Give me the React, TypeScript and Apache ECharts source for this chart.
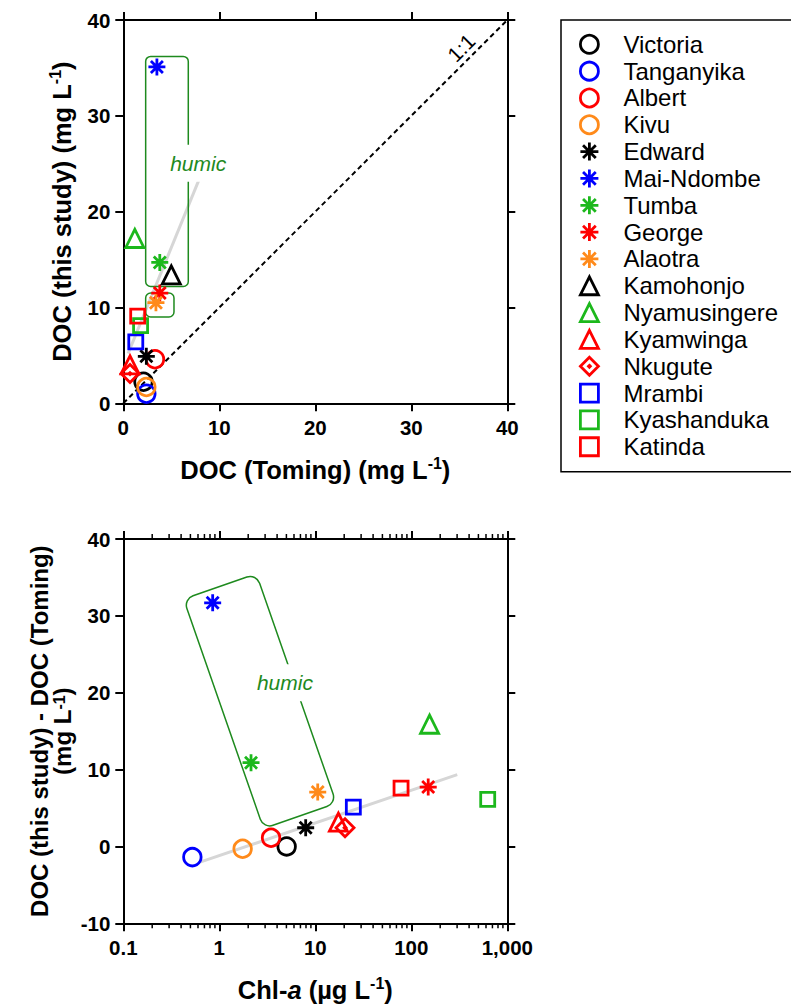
import React, { useEffect, useRef } from 'react';
import * as echarts from 'echarts';

const FONT = '"Liberation Sans", Arial, Helvetica, sans-serif';

// ---------- data ----------
const lakeNames = [
  'Victoria', 'Tanganyika', 'Albert', 'Kivu', 'Edward', 'Mai-Ndombe', 'Tumba', 'George',
  'Alaotra', 'Kamohonjo', 'Nyamusingere', 'Kyamwinga', 'Nkugute', 'Mrambi', 'Kyashanduka', 'Katinda',
];
const lakeColors = [
  '#000000', '#0000ff', '#ff0000', '#ff8a1a', '#000000', '#0000ff', '#1cb81c', '#ff0000',
  '#ff8a1a', '#000000', '#1cb81c', '#ff0000', '#ff0000', '#0000ff', '#1cb81c', '#ff0000',
];
const lakeMarkers = [
  'circle', 'circle', 'circle', 'circle', 'asterisk', 'asterisk', 'asterisk', 'asterisk',
  'asterisk', 'triangle', 'triangle', 'triangle', 'diamond', 'square', 'square', 'square',
];
// top panel: DOC (Toming) vs DOC (this study), mg/L
const docToming = [2.1, 2.4, 3.3, 2.4, 2.4, 3.5, 3.8, 3.8, 3.4, 5.0, 1.2, 0.7, 0.7, 1.3, 1.8, 1.5];
const docThisStudy = [2.25, 1.0, 4.6, 1.7, 4.9, 35.1, 14.7, 11.5, 10.5, 13.4, 17.2, 4.0, 3.1, 6.4, 8.1, 9.1];
// bottom panel: Chl-a (ug/L) vs difference (mg/L); Kamohonjo not shown
const chlA = [5.03, 0.524, 3.46, 1.75, 7.94, 0.853, 2.14, 150, 10.6, null, 155, 17.4, 20.4, 24.9, 625, 78.2];
const docDiff = [0.0, -1.39, 1.13, -0.3, 2.43, 31.7, 10.9, 7.73, 7.07, null, 15.9, 3.17, 2.43, 5.12, 6.12, 7.6];

const linearTicks = [0, 10, 20, 30, 40];
const diffTicks = [-10, 0, 10, 20, 30, 40];
const logTickValues = [0.1, 1, 10, 100, 1000];
const logTickLabels = ['0.1', '1', '10', '100', '1,000'];
const minorDecades = [0.1, 1, 10, 100];
const minorMultipliers = [2, 3, 4, 5, 6, 7, 8, 9];

const oneToOneLine = [[0, 0], [40, 40]];
const trendTop = [[0.5, 5.2], [8.4, 24.6]];
const trendBottom = [[0.63, -2.05], [301, 9.34]];
// boxes: [x1, y1, x2, y2] in data units
const humicBoxesTop = [[2.33, 36.2, 6.77, 12.2], [2.33, 11.5, 5.28, 9.0]];
// rotated box: corner A, corner B (along short side), corner D (along long side)
const humicBoxBottom = [[0.428, 32.2, 2.45, 35.5, 2.87, 2.3]];
const topLabels = [
  { x: 7.8, y: 25.05, text: 'humic', kind: 'humic' },
  { x: 35.2, y: 37.1, text: '1:1', kind: 'ratio' },
];
const bottomLabels = [{ x: 4.83, y: 21.3, text: 'humic', kind: 'humic' }];

// ---------- styles ----------
const SYMBOLS: Record<string, string> = {
  circle: 'circle',
  asterisk: 'path://M10,0L10,20M0,10L20,10M2.93,2.93L17.07,17.07M17.07,2.93L2.93,17.07',
  triangle: 'triangle',
  diamond: 'path://M10,0L20,10L10,20L0,10Z M10,9L11,10L10,11L9,10Z',
  square: 'rect',
};
const SIZES: Record<string, number> = { circle: 17.5, asterisk: 17, triangle: 18, diamond: 18, square: 14 };
const BOX_GREEN = '#1e8a1e';
const TITLE = 25.5;

const nameRich = {
  a: { fontSize: TITLE, fontWeight: 'bold', fontFamily: FONT, color: '#000', lineHeight: 30 },
  i: { fontSize: TITLE, fontWeight: 'bold', fontStyle: 'italic', fontFamily: FONT, color: '#000', lineHeight: 30 },
  s: { fontSize: 16, fontWeight: 'bold', fontFamily: FONT, color: '#000', lineHeight: 14, verticalAlign: 'top' },
  b: { fontSize: 24, fontWeight: 'bold', fontFamily: FONT, color: '#000', lineHeight: 23 },
  t: { fontSize: 16, fontWeight: 'bold', fontFamily: FONT, color: '#000', lineHeight: 11, verticalAlign: 'top' },
};

const axisLineStyle = { onZero: false, lineStyle: { color: '#000', width: 2 } };
const axisTickStyle = { length: 8, inside: false, lineStyle: { color: '#000', width: 2 } };
const tickLabelStyle = { fontSize: 20.5, fontWeight: 'bold', color: '#000', fontFamily: FONT };

function logLabel(v: number) {
  let best = 0;
  logTickValues.forEach((t, i) => {
    if (Math.abs(Math.log10(t) - Math.log10(v)) < Math.abs(Math.log10(logTickValues[best]) - Math.log10(v))) best = i;
  });
  return logTickLabels[best];
}

function buildOption() {
  const series: any[] = [];

  // trend lines and 1:1 line
  series.push({
    type: 'line', xAxisIndex: 0, yAxisIndex: 0, data: trendTop, showSymbol: false, silent: true, z: 1,
    lineStyle: { color: '#d6d6d6', width: 3 },
  });
  series.push({
    type: 'line', xAxisIndex: 2, yAxisIndex: 2, data: trendBottom, showSymbol: false, silent: true, z: 1,
    lineStyle: { color: '#d6d6d6', width: 3 },
  });
  series.push({
    type: 'line', xAxisIndex: 0, yAxisIndex: 0, data: oneToOneLine, showSymbol: false, silent: true, z: 2,
    lineStyle: { color: '#000', width: 2, type: [5, 3.5] },
  });

  // humic boxes (top)
  series.push({
    type: 'custom', xAxisIndex: 0, yAxisIndex: 0, silent: true, z: 3,
    data: humicBoxesTop,
    encode: { x: [0, 2], y: [1, 3] },
    renderItem: (_p: any, api: any) => {
      const p1 = api.coord([api.value(0), api.value(1)]);
      const p2 = api.coord([api.value(2), api.value(3)]);
      return {
        type: 'rect',
        shape: { x: p1[0], y: p1[1], width: p2[0] - p1[0], height: p2[1] - p1[1], r: 5 },
        style: { fill: 'none', stroke: BOX_GREEN, lineWidth: 1.5 },
      };
    },
  });
  // humic box (bottom, rotated)
  series.push({
    type: 'custom', xAxisIndex: 2, yAxisIndex: 2, silent: true, z: 3,
    data: humicBoxBottom,
    encode: { x: [0, 2, 4], y: [1, 3, 5] },
    renderItem: (_p: any, api: any) => {
      const a = api.coord([api.value(0), api.value(1)]);
      const b = api.coord([api.value(2), api.value(3)]);
      const d = api.coord([api.value(4), api.value(5)]);
      const w = Math.hypot(b[0] - a[0], b[1] - a[1]);
      const h = Math.hypot(d[0] - a[0], d[1] - a[1]);
      const cx = (b[0] + d[0]) / 2;
      const cy = (b[1] + d[1]) / 2;
      const rot = -Math.atan2(b[1] - a[1], b[0] - a[0]);
      return {
        type: 'rect', x: cx, y: cy, rotation: rot,
        shape: { x: -w / 2, y: -h / 2, width: w, height: h, r: 10 },
        style: { fill: 'none', stroke: BOX_GREEN, lineWidth: 1.5 },
      };
    },
  });

  // minor ticks for the log axis (bottom and top edges)
  const minorTicks: number[][] = [];
  minorDecades.forEach((d) => minorMultipliers.forEach((m) => minorTicks.push([+(d * m).toPrecision(3), 0])));
  series.push({
    type: 'custom', xAxisIndex: 2, yAxisIndex: 2, silent: true, z: 2, data: minorTicks,
    renderItem: (_p: any, api: any) => {
      const v = api.value(0);
      const pb = api.coord([v, -10]);
      const pt = api.coord([v, 40]);
      return {
        type: 'group',
        children: [
          { type: 'line', shape: { x1: pb[0], y1: pb[1], x2: pb[0], y2: pb[1] + 5 }, style: { stroke: '#000', lineWidth: 1.5 } },
          { type: 'line', shape: { x1: pt[0], y1: pt[1], x2: pt[0], y2: pt[1] - 5 }, style: { stroke: '#000', lineWidth: 1.5 } },
        ],
      };
    },
  });

  // scatter markers
  lakeNames.forEach((name, i) => {
    const mk = lakeMarkers[i];
    const common = {
      type: 'scatter', name, symbol: SYMBOLS[mk], symbolSize: SIZES[mk], z: 5,
      itemStyle: { color: 'rgba(0,0,0,0)', borderColor: lakeColors[i], borderWidth: 2.8, opacity: 1 },
      emphasis: { disabled: true },
    };
    series.push({ ...common, xAxisIndex: 0, yAxisIndex: 0, data: [[docToming[i], docThisStudy[i]]] });
    if (chlA[i] != null && docDiff[i] != null) {
      series.push({ ...common, xAxisIndex: 2, yAxisIndex: 2, data: [[chlA[i], docDiff[i]]] });
    }
  });

  // text annotations
  const textSeries = (xi: number, yi: number, items: any[]) => ({
    type: 'custom', xAxisIndex: xi, yAxisIndex: yi, silent: true, z: 6,
    data: items.map((it) => [it.x, it.y]),
    renderItem: (p: any, api: any) => {
      const it = items[p.dataIndex];
      const pt = api.coord([api.value(0), api.value(1)]);
      if (it.kind === 'humic') {
        return {
          type: 'text', x: pt[0], y: pt[1],
          style: {
            text: it.text, fill: BOX_GREEN, fontSize: 21, fontStyle: 'italic', fontFamily: FONT,
            align: 'center', verticalAlign: 'middle', backgroundColor: '#ffffff', padding: [8, 5],
          },
        };
      }
      return {
        type: 'text', x: pt[0], y: pt[1], rotation: Math.PI / 4,
        style: {
          text: it.text, fill: '#000', fontSize: 21, fontFamily: FONT,
          align: 'center', verticalAlign: 'middle',
        },
      };
    },
  });
  series.push(textSeries(0, 0, topLabels));
  series.push(textSeries(2, 2, bottomLabels));

  return {
    animation: false,
    backgroundColor: '#ffffff',
    textStyle: { fontFamily: FONT },
    grid: [
      { left: 123.3, top: 20, width: 384, height: 383.3, outerBoundsMode: 'none', containLabel: false },
      { left: 123.3, top: 539, width: 384, height: 384.3, outerBoundsMode: 'none', containLabel: false },
    ],
    xAxis: [
      {
        gridIndex: 0, type: 'value', position: 'bottom', min: linearTicks[0], max: linearTicks[linearTicks.length - 1], interval: 10,
        axisLine: axisLineStyle, axisTick: axisTickStyle, splitLine: { show: false },
        axisLabel: { ...tickLabelStyle, margin: 14 },
        name: '{a|DOC (Toming) (mg L}{s|-1}{a|)}', nameLocation: 'middle', nameGap: 52,
        nameTextStyle: { rich: nameRich },
      },
      {
        gridIndex: 0, type: 'value', position: 'top', min: linearTicks[0], max: linearTicks[linearTicks.length - 1], interval: 10,
        axisLine: axisLineStyle, axisTick: axisTickStyle, splitLine: { show: false }, axisLabel: { show: false },
      },
      {
        gridIndex: 1, type: 'log', logBase: 10, position: 'bottom', min: logTickValues[0], max: logTickValues[logTickValues.length - 1],
        axisLine: axisLineStyle, axisTick: axisTickStyle, splitLine: { show: false }, minorTick: { show: false },
        axisLabel: { ...tickLabelStyle, margin: 14, formatter: (v: number) => logLabel(v) },
        name: '{a|Chl-}{i|a}{a| (µg L}{s|-1}{a|)}', nameLocation: 'middle', nameGap: 52,
        nameTextStyle: { rich: nameRich },
      },
      {
        gridIndex: 1, type: 'log', logBase: 10, position: 'top', min: logTickValues[0], max: logTickValues[logTickValues.length - 1],
        axisLine: axisLineStyle, axisTick: axisTickStyle, splitLine: { show: false }, axisLabel: { show: false },
      },
    ],
    yAxis: [
      {
        gridIndex: 0, type: 'value', position: 'left', min: linearTicks[0], max: linearTicks[linearTicks.length - 1], interval: 10,
        axisLine: axisLineStyle, axisTick: axisTickStyle, splitLine: { show: false },
        axisLabel: { ...tickLabelStyle, margin: 13 },
        name: '{a|DOC (this study) (mg L}{s|-1}{a|)}', nameLocation: 'middle', nameGap: 46,
        nameTextStyle: { rich: nameRich },
      },
      {
        gridIndex: 0, type: 'value', position: 'right', min: linearTicks[0], max: linearTicks[linearTicks.length - 1], interval: 10,
        axisLine: axisLineStyle, axisTick: axisTickStyle, splitLine: { show: false }, axisLabel: { show: false },
      },
      {
        gridIndex: 1, type: 'value', position: 'left', min: diffTicks[0], max: diffTicks[diffTicks.length - 1], interval: 10,
        axisLine: axisLineStyle, axisTick: axisTickStyle, splitLine: { show: false },
        axisLabel: { ...tickLabelStyle, margin: 13 },
        name: '{b|DOC (this study) - DOC (Toming)}\n{b|(mg L}{t|-1}{b|)}', nameLocation: 'middle', nameGap: 49,
        nameTextStyle: { rich: nameRich },
      },
      {
        gridIndex: 1, type: 'value', position: 'right', min: diffTicks[0], max: diffTicks[diffTicks.length - 1], interval: 10,
        axisLine: axisLineStyle, axisTick: axisTickStyle, splitLine: { show: false }, axisLabel: { show: false },
      },
    ],
    legend: {
      orient: 'vertical', left: 561, top: 20, padding: [12.3, 10, 10, 18], itemGap: 2.83,
      itemWidth: 18, itemHeight: 18, data: lakeNames, selectedMode: false,
      itemStyle: { borderWidth: 2.8 },
      textStyle: { fontSize: 24, fontFamily: FONT, color: '#000', lineHeight: 24, padding: [0, 0, 0, 20] },
    },
    graphic: [
      {
        type: 'rect', silent: true, z: -1,
        shape: { x: 561, y: 20, width: 240, height: 451.7 },
        style: { fill: 'none', stroke: '#000', lineWidth: 1.5 },
      },
    ],
    series,
  };
}

export default function App() {
  const ref = useRef<HTMLDivElement>(null);
  useEffect(() => {
    if (!ref.current) return;
    const chart = echarts.init(ref.current, undefined, { renderer: 'svg' });
    chart.setOption(buildOption() as any);
    return () => chart.dispose();
  }, []);
  return (
    <div
      ref={ref}
      style={{ position: 'absolute', left: 0, top: 0, width: 791, height: 1008, background: '#fff' }}
    />
  );
}
